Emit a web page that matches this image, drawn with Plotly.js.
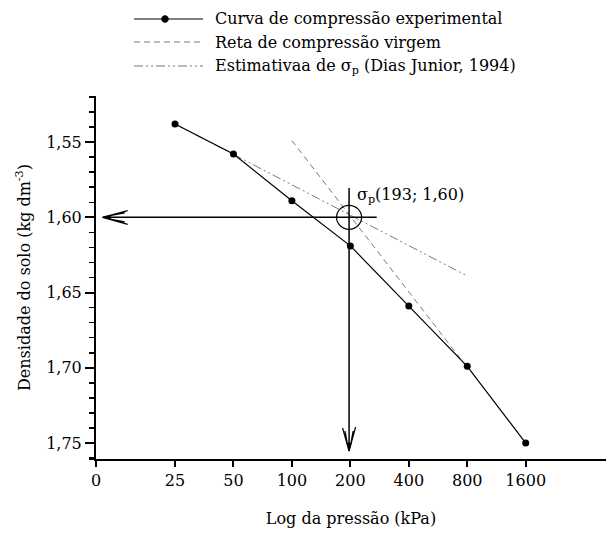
<!DOCTYPE html>
<html><head><meta charset="utf-8">
<script src="https://cdn.plot.ly/plotly-3.0.1.min.js"></script>
<style>html,body{margin:0;padding:0;background:#fff}#chart{width:606px;height:535px}</style>
</head><body><div id="chart"></div>
<script>
// ---- data ----
const pressure = [25, 50, 100, 200, 400, 800, 1600];
const density = [1.538, 1.558, 1.589, 1.619, 1.659, 1.699, 1.750];
const virginX = [100, 800];
const virginY = [1.549, 1.6998];
const estimX = [25, 800];
const estimY = [1.538, 1.639];
const sigmaX = [197];
const sigmaY = [1.60];
const xTickPressure = [25, 50, 100, 200, 400, 800, 1600];
const xTickLabels = ['0', '25', '50', '100', '200', '400', '800', '1600'];
const seriesNames = ['Curva de compressão experimental', 'Reta de compressão virgem', 'Estimativaa de σ<sub>p</sub> (Dias Junior, 1994)'];
const sigmaLabel = 'σ<sub>p</sub>(193; 1,60)';

// ---- layout helpers ----
const W = 606, H = 535, L = 96, R = 0, T = 96, B = 76;
const pw = W - L - R, ph = H - T - B;
const px2paperX = p => (p - L) / pw;
const py2paperY = p => (H - B - p) / ph;
const xRange = [0.99107, 3.61768];
const yRange = [1.7606, 1.5194];
const xOrigin = Math.pow(10, xRange[0] + 0.0002);
const FONT = 'DejaVu Serif';

// ellipse path (pixel units, centred on anchor) built from 4 cubic arcs
function ellipsePath(rx, ry) {
  const k = 0.5523;
  return `M${-rx},0 C${-rx},${ry * k} ${-rx * k},${ry} 0,${ry} C${rx * k},${ry} ${rx},${ry * k} ${rx},0 ` +
         `C${rx},${-ry * k} ${rx * k},${-ry} 0,${-ry} C${-rx * k},${-ry} ${-rx},${-ry * k} ${-rx},0 Z`;
}

const grey = '#7a7a7a';
const traces = [
  {x: estimX, y: estimY, mode: 'lines', name: seriesNames[2],
   line: {color: grey, width: 1, dash: '9px,3px,2px,3px,2px,3px'}, hoverinfo: 'skip'},
  {x: virginX, y: virginY, mode: 'lines', name: seriesNames[1],
   line: {color: grey, width: 1, dash: '6px,4px'}, hoverinfo: 'skip'},
  {x: pressure, y: density, mode: 'lines+markers', name: seriesNames[0],
   line: {color: '#000', width: 1.2}, marker: {color: '#000', size: 7, symbol: 'circle'}}
];

const shapes = [];
// x axis line extension left of y axis
shapes.push({type: 'line', xref: 'paper', yref: 'paper', x0: px2paperX(89), x1: 0, y0: 0, y1: 0,
  line: {color: '#000', width: 2}});
// horizontal arrow at sigma_p density
const hTip = px2paperX(102.7);
shapes.push({type: 'line', xref: 'paper', yref: 'y', x0: hTip, x1: px2paperX(376.7), y0: sigmaY[0], y1: sigmaY[0],
  line: {color: '#000', width: 1.5}});
shapes.push({type: 'path', xref: 'paper', yref: 'y', xsizemode: 'pixel', ysizemode: 'pixel',
  xanchor: hTip, yanchor: sigmaY[0], path: 'M0,0 L25,6.7 M0,0 L25,-7 M3,1 L22,4.5 M3,-1 L22,-4.5',
  line: {color: '#000', width: 1.2}});
shapes.push({type: 'path', xref: 'paper', yref: 'y', xsizemode: 'pixel', ysizemode: 'pixel',
  xanchor: hTip, yanchor: sigmaY[0], path: 'M0,0 L8,2.2 L8,-2.2 Z', fillcolor: '#000',
  line: {color: '#000', width: 0.5}});
// vertical arrow at sigma_p pressure
shapes.push({type: 'line', xref: 'x', yref: 'y', x0: sigmaX[0], x1: sigmaX[0], y0: 1.5806, y1: 1.7553,
  line: {color: '#000', width: 1.5}});
shapes.push({type: 'path', xref: 'x', yref: 'y', xsizemode: 'pixel', ysizemode: 'pixel',
  xanchor: sigmaX[0], yanchor: 1.7553, path: 'M0,0 L-6.5,23 M0,0 L6.5,24 M-1,3 L-4,20 M1,3 L4,20',
  line: {color: '#000', width: 1.2}});
shapes.push({type: 'path', xref: 'x', yref: 'y', xsizemode: 'pixel', ysizemode: 'pixel',
  xanchor: sigmaX[0], yanchor: 1.7553, path: 'M0,0 L-2.2,8 L2.2,8 Z', fillcolor: '#000',
  line: {color: '#000', width: 0.5}});
// circle around sigma_p
shapes.push({type: 'path', xref: 'x', yref: 'y', xsizemode: 'pixel', ysizemode: 'pixel',
  xanchor: sigmaX[0], yanchor: sigmaY[0], path: ellipsePath(12.5, 12),
  line: {color: '#000', width: 1.2}});

// custom legend
const legRows = [19, 42, 66];
const legX0 = px2paperX(134), legX1 = px2paperX(203);
const legStyles = [
  {color: '#000', width: 1.2, dash: 'solid'},
  {color: grey, width: 1, dash: '6px,4px'},
  {color: grey, width: 1, dash: '9px,3px,2px,3px,2px,3px'}
];
const annotations = [];
legRows.forEach((ry, i) => {
  const yy = py2paperY(ry);
  shapes.push({type: 'line', xref: 'paper', yref: 'paper', x0: legX0, x1: legX1, y0: yy, y1: yy, line: legStyles[i]});
  annotations.push({xref: 'paper', yref: 'paper', x: px2paperX(213), y: yy, xanchor: 'left', yanchor: 'middle',
    text: seriesNames[i], showarrow: false, font: {family: FONT, size: 16}});
});
shapes.push({type: 'path', xref: 'paper', yref: 'paper', xsizemode: 'pixel', ysizemode: 'pixel',
  xanchor: px2paperX(165), yanchor: py2paperY(legRows[0]), path: ellipsePath(3.5, 3.5),
  fillcolor: '#000', line: {color: '#000', width: 0.5}});

annotations.push({xref: 'x', yref: 'y', x: Math.log10(sigmaX[0]), y: sigmaY[0], xanchor: 'left', yanchor: 'middle',
  xshift: 6, yshift: 22, text: sigmaLabel, showarrow: false, font: {family: FONT, size: 16}});

const layout = {
  width: W, height: H,
  margin: {l: L, r: R, t: T, b: B, pad: 0},
  paper_bgcolor: '#fff', plot_bgcolor: '#fff',
  separators: ',.',
  font: {family: FONT, size: 16, color: '#000'},
  showlegend: false,
  xaxis: {
    type: 'log', range: xRange, fixedrange: true,
    tickmode: 'array', tickvals: [xOrigin].concat(xTickPressure), ticktext: xTickLabels,
    ticks: 'outside', ticklen: 6, tickwidth: 2, tickcolor: '#000',
    showline: true, linewidth: 2, linecolor: '#000', showgrid: false, zeroline: false,
    tickfont: {family: FONT, size: 16},
    title: {text: 'Log da pressão (kPa)', standoff: 24, font: {family: FONT, size: 16}}
  },
  yaxis: {
    range: yRange, fixedrange: true,
    tick0: 1.55, dtick: 0.05, tickformat: '.2f',
    ticks: 'outside', ticklen: 9, tickwidth: 2, tickcolor: '#000',
    minor: {tick0: 1.55, dtick: 0.01, ticks: 'outside', ticklen: 5, tickwidth: 1.5, tickcolor: '#000', showgrid: false},
    showline: true, linewidth: 2, linecolor: '#000', showgrid: false, zeroline: false,
    tickfont: {family: FONT, size: 16},
    title: {text: 'Densidade do solo (kg dm<sup>-3</sup>)', standoff: 12, font: {family: FONT, size: 16}}
  },
  shapes: shapes,
  annotations: annotations
};

Plotly.newPlot('chart', traces, layout, {displayModeBar: false, staticPlot: true});
</script>
</body></html>
